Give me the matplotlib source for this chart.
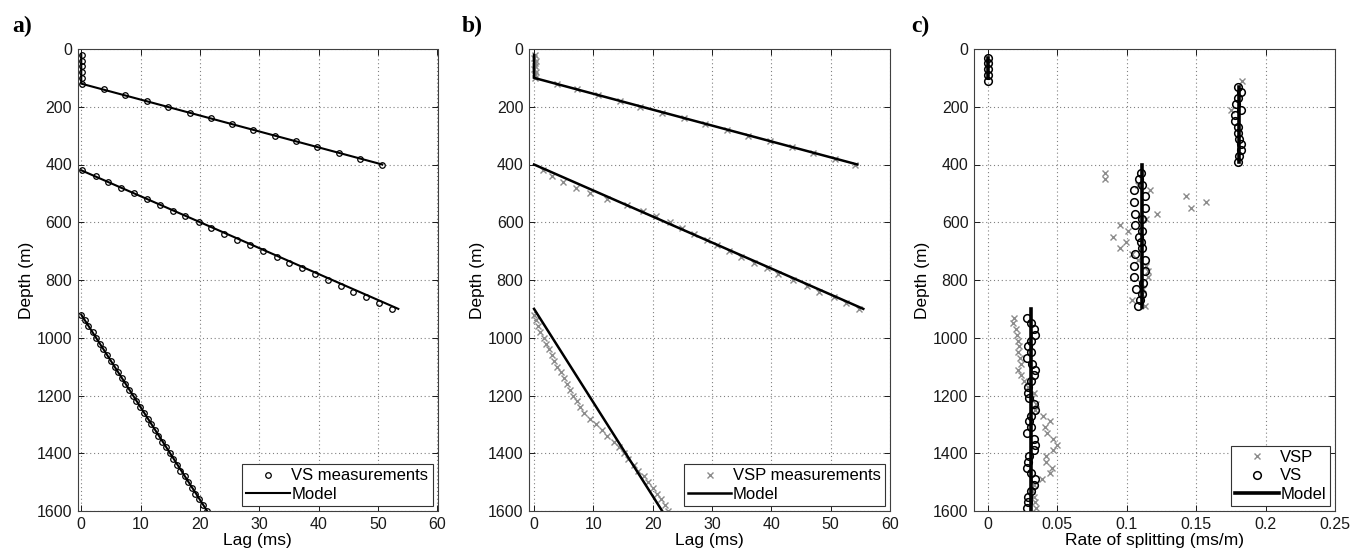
import matplotlib.pyplot as plt
import numpy as np

plt.rcParams['font.family'] = ['Liberation Sans', 'DejaVu Sans']

# ---- panel a: VS lag measurements ----
a_vs_depth = [20, 40, 60, 80, 100, 120,
              140, 160, 180, 200, 220, 240, 260, 280, 300, 320, 340, 360, 380, 400,
              420, 440, 460, 480, 500, 520, 540, 560, 580, 600, 620, 640, 660, 680, 700,
              720, 740, 760, 780, 800, 820, 840, 860, 880, 900,
              920, 940, 960, 980, 1000, 1020, 1040, 1060, 1080, 1100, 1120, 1140, 1160,
              1180, 1200, 1220, 1240, 1260, 1280, 1300, 1320, 1340, 1360, 1380, 1400,
              1420, 1440, 1460, 1480, 1500, 1520, 1540, 1560, 1580, 1600]
a_vs_lag = [0.1, 0.1, 0.1, 0.1, 0.1, 0.1,
            3.8, 7.3, 11.1, 14.6, 18.3, 21.8, 25.4, 28.9, 32.6, 36.1, 39.7, 43.4, 46.9, 50.7,
            0.1, 2.4, 4.5, 6.7, 8.8, 11.0, 13.2, 15.4, 17.5, 19.8, 21.9, 24.1, 26.2, 28.5, 30.6,
            32.9, 35.0, 37.2, 39.4, 41.6, 43.7, 45.8, 48.0, 50.2, 52.3,
            0.0, 0.6, 1.2, 1.9, 2.5, 3.1, 3.7, 4.3, 5.0, 5.6, 6.2, 6.8, 7.4,
            8.1, 8.7, 9.3, 9.9, 10.5, 11.2, 11.8, 12.4, 13.0, 13.6, 14.3, 14.9,
            15.5, 16.1, 16.7, 17.4, 18.0, 18.6, 19.2, 19.8, 20.5, 21.1]
a_model_lag = [[0, 0, 50.7], [0, 53.4], [0, 21.2]]
a_model_depth = [[20, 120, 400], [420, 900], [920, 1600]]

# ---- panel b: VSP lag measurements ----
b_vsp_depth = [20, 30, 40, 50, 60, 70, 80, 90, 100,
               120, 140, 160, 180, 200, 220, 240, 260, 280, 300, 320, 340, 360, 380, 400,
               420, 440, 460, 480, 500, 520, 540, 560, 580, 600, 620, 640, 660, 680, 700,
               720, 740, 760, 780, 800, 820, 840, 860, 880, 900,
               920, 940, 960, 980, 1000, 1020, 1040, 1060, 1080, 1100, 1120, 1140, 1160,
               1180, 1200, 1220, 1240, 1260, 1280, 1300, 1320, 1340, 1360, 1380, 1400,
               1420, 1440, 1460, 1480, 1500, 1520, 1540, 1560, 1580, 1600]
b_vsp_lag = [0.2, 0.0, 0.3, 0.1, 0.2, 0.0, 0.3, 0.1, 0.2,
             3.8, 7.2, 10.8, 14.5, 17.9, 21.5, 25.2, 28.8, 32.5, 36.1, 39.8, 43.4, 47.1, 50.7, 54.1,
             1.5, 3.1, 4.9, 7.1, 9.4, 12.3, 15.6, 18.3, 20.6, 22.9, 24.9, 26.9, 29.1, 30.8, 32.8,
             34.9, 37.0, 39.2, 41.2, 43.7, 46.0, 48.1, 50.5, 52.6, 54.7,
             0.0, 0.4, 0.7, 1.0, 1.6, 2.0, 2.5, 3.0, 3.4, 3.9, 4.5, 5.0, 5.6,
             6.1, 6.6, 7.2, 7.8, 8.5, 9.4, 10.4, 11.4, 12.3, 13.4, 14.3, 15.1,
             15.9, 16.8, 17.6, 18.6, 19.2, 20.1, 20.8, 21.4, 22.0, 22.6]
b_model_lag = [[0, 0, 54.5], [0, 55.5], [0, 21.6]]
b_model_depth = [[20, 100, 400], [400, 900], [900, 1600]]

# ---- panel c: rate of splitting ----
c_vsp_depth = [110, 210,
               430, 450, 470, 490, 510, 530, 550, 570, 590, 610, 630, 650, 670, 690,
               710, 730, 750, 770, 790, 810, 830, 850, 870, 890,
               930, 950, 970, 990, 1010, 1030, 1050, 1070, 1090, 1110, 1130, 1150, 1170,
               1190, 1210, 1230, 1250, 1270, 1290, 1310, 1330, 1350, 1370, 1390, 1410,
               1430, 1450, 1470, 1490, 1510, 1530, 1550, 1570, 1590]
c_vsp_rate = [0.183, 0.175,
              0.084, 0.084, 0.108, 0.117, 0.143, 0.157, 0.146, 0.122, 0.114, 0.095, 0.101,
              0.090, 0.0995, 0.095, 0.104, 0.108, 0.114, 0.115, 0.115, 0.110, 0.112, 0.111,
              0.104, 0.113,
              0.019, 0.018, 0.020, 0.021, 0.022, 0.0225, 0.022, 0.023, 0.0237, 0.022, 0.024,
              0.026, 0.029, 0.033, 0.032, 0.035, 0.034, 0.040, 0.045, 0.041, 0.0425, 0.047,
              0.050, 0.047, 0.042, 0.042, 0.046, 0.045, 0.039, 0.033, 0.032, 0.033, 0.034, 0.035]
c_vs_depth = [30, 50, 70, 90, 110,
              130, 150, 170, 190, 210, 230, 250, 270, 290, 310, 330, 350, 370, 390,
              430, 450, 470, 490, 510, 530, 550, 570, 590, 610, 630, 650, 670, 690,
              710, 730, 750, 770, 790, 810, 830, 850, 870, 890,
              930, 950, 970, 990, 1010, 1030, 1050, 1070, 1090, 1110, 1130, 1150, 1170,
              1190, 1210, 1230, 1250, 1270, 1290, 1310, 1330, 1350, 1370, 1390, 1410,
              1430, 1450, 1470, 1490, 1510, 1530, 1550, 1570, 1590]
c_vs_rate = [0.0, 0.0, 0.0, 0.0, 0.0,
             0.180, 0.182, 0.180, 0.179, 0.182, 0.178, 0.178, 0.180, 0.180, 0.181, 0.182,
             0.182, 0.181, 0.180,
             0.110, 0.109, 0.111, 0.1055, 0.113, 0.1055, 0.113, 0.106, 0.111, 0.106, 0.111,
             0.109, 0.110, 0.111, 0.106, 0.113, 0.105, 0.113, 0.105, 0.112, 0.1065, 0.111,
             0.1095, 0.108,
             0.028, 0.031, 0.033, 0.034, 0.031, 0.029, 0.031, 0.028, 0.032, 0.034, 0.033,
             0.031, 0.029, 0.029, 0.0295, 0.0335, 0.034, 0.031, 0.0297, 0.031, 0.028, 0.033,
             0.034, 0.033, 0.0295, 0.029, 0.028, 0.031, 0.0338, 0.0335, 0.031, 0.029, 0.029, 0.028]
c_model_rate = [0.0, 0.1805, 0.1112, 0.0309]
c_model_depth = [[30, 100], [130, 390], [400, 895], [900, 1600]]

W, H = 1353, 552
fig = plt.figure(figsize=(W / 100, H / 100), dpi=100)

def px_axes(left, right, top=49, bottom=511):
    return fig.add_axes([left / W, (H - bottom) / H, (right - left) / W, (bottom - top) / H])

def style(ax, xlim, xticks, xlabels, xlabel):
    ax.set_xlim(*xlim)
    ax.set_ylim(1600, 0)
    ax.set_xticks(xticks)
    ax.set_xticklabels(xlabels)
    ax.set_yticks(np.arange(0, 1601, 200))
    ax.grid(True, color='0.5', linestyle=(0, (1, 2.5)), linewidth=0.8)
    ax.tick_params(direction='in', top=True, right=True, length=4, width=0.7,
                   labelsize=11.5, pad=4, colors='0.1')
    for s in ax.spines.values():
        s.set_color('0.25')
        s.set_linewidth(0.8)
    ax.set_xlabel(xlabel, fontsize=12.5, labelpad=1)
    ax.set_ylabel('Depth (m)', fontsize=12.5, labelpad=2)

leg_kw = dict(loc='lower right', fontsize=12, fancybox=False, framealpha=1,
              edgecolor='0.2', borderpad=0.25, labelspacing=0.2, handlelength=2.6,
              handletextpad=0.1, borderaxespad=0.3)

# a)
ax = px_axes(77.7, 437.5)
ax.plot(a_vs_lag, a_vs_depth, 'o', ms=4, mfc='none', mec='k', mew=0.9, label='VS measurements')
for i in range(len(a_model_lag)):
    ax.plot(a_model_lag[i], a_model_depth[i], '-', color='k', lw=1.5,
            label='Model' if i == 0 else None)
style(ax, (-0.6, 60), np.arange(0, 61, 10), [str(v) for v in range(0, 61, 10)], 'Lag (ms)')
lg = ax.legend(**leg_kw)
lg.get_frame().set_linewidth(0.8)
fig.text(12 / W, 1 - 32 / H, 'a)', fontsize=17, fontweight='bold', family='Liberation Serif')

# b)
ax = px_axes(529, 890)
ax.plot(b_vsp_lag, b_vsp_depth, 'x', ms=4.5, color='0.55', mew=1.0, label='VSP measurements')
for i in range(len(b_model_lag)):
    ax.plot(b_model_lag[i], b_model_depth[i], '-', color='k', lw=1.8,
            label='Model' if i == 0 else None)
style(ax, (-0.85, 60), np.arange(0, 61, 10), [str(v) for v in range(0, 61, 10)], 'Lag (ms)')
lg = ax.legend(**leg_kw)
lg.get_frame().set_linewidth(0.8)
fig.text(462 / W, 1 - 32 / H, 'b)', fontsize=17, fontweight='bold', family='Liberation Serif')

# c)
ax = px_axes(974, 1335)
ax.plot(c_vsp_rate, c_vsp_depth, 'x', ms=4.5, color='0.55', mew=1.0, label='VSP')
ax.plot(c_vs_rate, c_vs_depth, 'o', ms=5.5, mfc='none', mec='k', mew=1.1, label='VS')
for i in range(len(c_model_rate)):
    ax.plot([c_model_rate[i]] * 2, c_model_depth[i], '-', color='k', lw=2.6,
            label='Model' if i == 0 else None)
style(ax, (-0.01, 0.25), [0, 0.05, 0.1, 0.15, 0.2, 0.25],
      ['0', '0.05', '0.1', '0.15', '0.2', '0.25'], 'Rate of splitting (ms/m)')
lg = ax.legend(**leg_kw)
lg.get_frame().set_linewidth(0.8)
fig.text(911 / W, 1 - 32 / H, 'c)', fontsize=17, fontweight='bold', family='Liberation Serif')

fig.savefig('out.png', dpi=100)
